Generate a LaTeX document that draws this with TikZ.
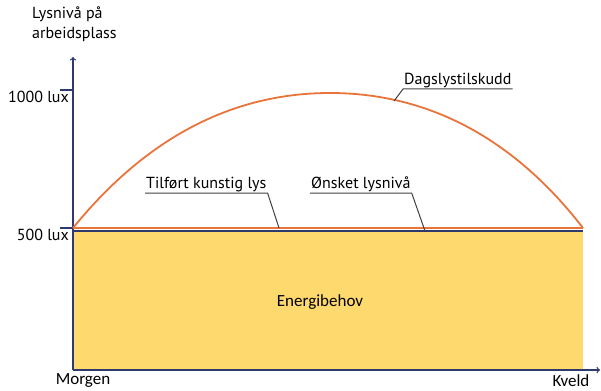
\documentclass[tikz,border=0pt]{standalone}
\usepackage{fontspec}
\setmainfont{PT Sans}
\newfontfamily\calfont{Carlito}
\usepackage{tikz}
\usepackage{xcolor}
\definecolor{dagorange}{HTML}{E8743B}
\definecolor{aksblaa}{HTML}{2E3A6E}
\definecolor{energigul}{HTML}{FDD96E}
\tikzset{
  tekst/.style={font=\fontsize{16}{20}\selectfont, inner sep=1pt},
  aksetekst/.style={font=\calfont\fontsize{17}{20}\selectfont, inner sep=1pt},
  leder/.style={draw=black!75, line width=1pt},
}
\begin{document}
\begin{tikzpicture}[x=1pt,y=-1pt]
\useasboundingbox (0,0) rectangle (601,390);

\fill[energigul] (73,230) rectangle (583,370);

% akser
\node[tekst, align=left, anchor=north west] (YL) at (31,6) {Lysnivå på\\arbeidsplass};
\coordinate (O) at (73,370);
\coordinate (YT) at (73,57);
\coordinate (XT) at (600,370);
\draw[aksblaa, line width=1.3pt, ->] (O) -- (YT);
\draw[aksblaa, line width=1.3pt, ->] (O) -- (XT);

\coordinate (H) at (73,90);
\coordinate (L) at (73,228);
\draw[aksblaa, line width=1.2pt] (H) -- ++(-13,0);
\draw[aksblaa, line width=1.2pt] (L) -- ++(-13,0);
\node[tekst, anchor=north east] (T1000) at (70,90) {1000 lux};
\node[tekst, anchor=north east] (T500) at (70,228) {500 lux};

\node[aksetekst] (M) at (83,381) {Morgen};
\node[aksetekst] (K) at (571,381) {Kveld};

% nivaa
\coordinate (S) at (73,228);
\coordinate (E) at (583,228);
\draw[aksblaa, line width=1.4pt] (73,231) -- (583,231);
\draw[dagorange, line width=1.8pt] (S) -- (E);
\draw[dagorange, line width=1.8pt] (S) .. controls (155,127) and (245,93) .. (330,93)
  .. controls (415,93) and (505,127) .. (E);

\node[aksetekst] (EB) at (320,302) {Energibehov};

% etiketter
\node[tekst, anchor=south west] (DL) at (403,89) {Dagslystilskudd};
\coordinate (DP) at (394,101);
\draw[leder] (DL.south east) -- (DL.south west) -- (DP);

\node[tekst, anchor=south west] (TL) at (145,193) {Tilført kunstig lys};
\coordinate (TP) at (279,228);
\draw[leder] (TL.south west) -- (TL.south east) -- (TP);

\node[tekst, anchor=south west] (OL) at (310,193) {Ønsket lysnivå};
\coordinate (OP) at (425,231);
\draw[leder] (OL.south west) -- (OL.south east) -- (OP);
\end{tikzpicture}
\end{document}
